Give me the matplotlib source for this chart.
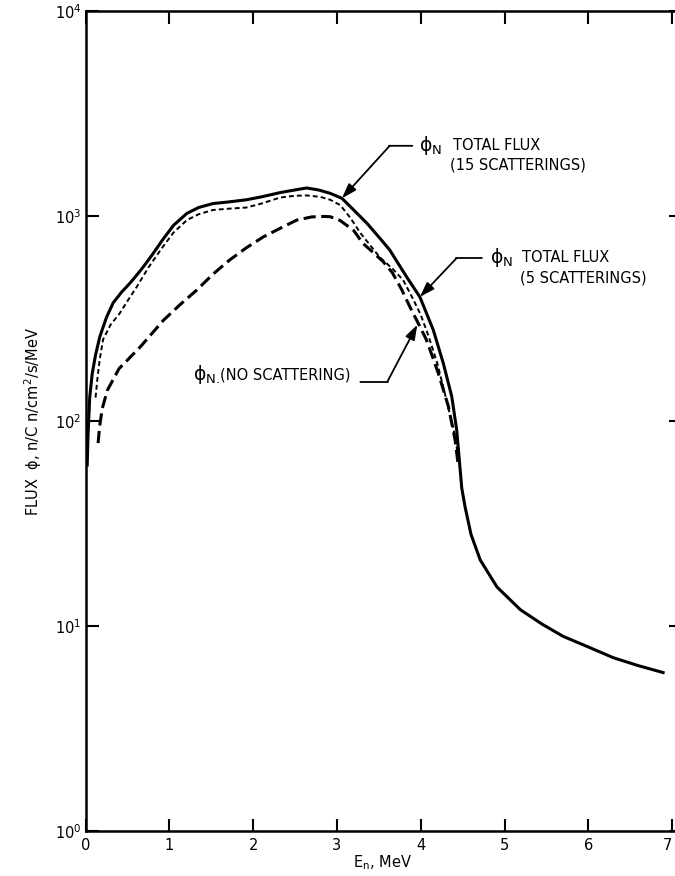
import matplotlib
matplotlib.use("Agg")
import matplotlib.pyplot as plt

plt.rcParams['font.family'] = ['DejaVu Sans']
plt.rcParams['mathtext.default'] = 'regular'

# ---- data ----
# phi_N total flux, 15 scatterings (solid)
e_15 = [0.02, 0.03, 0.05, 0.08, 0.12, 0.17, 0.25, 0.33, 0.43, 0.53, 0.62, 0.69, 0.8,
        0.92, 1.05, 1.21, 1.35, 1.52, 1.7, 1.92, 2.1, 2.32, 2.5, 2.64, 2.78, 2.92,
        3.06, 3.2, 3.36, 3.5, 3.63, 3.83, 3.99, 4.15, 4.27, 4.37, 4.43, 4.46, 4.49,
        4.53, 4.6, 4.71, 4.91, 5.19, 5.45, 5.7, 6.0, 6.3, 6.6, 6.91]
f_15 = [60, 85, 130, 170, 210, 257, 320, 377, 425, 470, 520, 565, 650,
        765, 900, 1030, 1100, 1150, 1170, 1200, 1240, 1300, 1340, 1370, 1340, 1290,
        1220, 1070, 920, 790, 683, 506, 403, 278, 191, 132, 90, 65, 47,
        38, 28, 21, 15.5, 12, 10.2, 8.9, 7.9, 7.0, 6.4, 5.9]

# phi_N total flux, 5 scatterings (short dashes)
e_5 = [0.12, 0.14, 0.17, 0.21, 0.3, 0.41, 0.51, 0.61, 0.75, 0.92, 1.05, 1.21, 1.35,
       1.52, 1.7, 1.92, 2.1, 2.32, 2.5, 2.64, 2.8, 2.92, 3.04, 3.16, 3.28, 3.51,
       3.67, 3.79, 3.9, 4.0, 4.1, 4.2, 4.3, 4.4, 4.44]
f_5 = [130, 158, 200, 250, 295, 336, 390, 450, 560, 705, 830, 955, 1020,
       1070, 1085, 1100, 1150, 1230, 1255, 1260, 1240, 1200, 1130, 980, 826, 630,
       550, 487, 400, 330, 255, 190, 130, 88, 70]

# phi_N, no scattering (long dashes)
e_0 = [0.15, 0.17, 0.2, 0.26, 0.4, 0.65, 0.93, 1.13, 1.33, 1.52, 1.72, 1.92, 2.12,
       2.32, 2.52, 2.7, 2.85, 2.92, 3.04, 3.2, 3.31, 3.43, 3.55, 3.66, 3.77, 3.87,
       3.97, 4.07, 4.21, 4.33, 4.41, 4.45]
f_0 = [78, 95, 115, 141, 180, 229, 310, 370, 436, 520, 610, 700, 790,
       870, 955, 990, 995, 992, 950, 850, 736, 665, 600, 530, 440, 361,
       300, 248, 171, 118, 81, 60]

x_ticks = [0, 1, 2, 3, 4, 5, 6, 7]
x_ticklabels = ['0', '1', '2', '3', '4', '5', '6', '7']
y_ticks = [1, 10, 100, 1000, 10000]

# ---- figure ----
fig = plt.figure(figsize=(6.75, 8.76), dpi=100)
ax = fig.add_axes([85.5 / 675, 45 / 876, 595 / 675, 820 / 876])
ax.set_yscale('log')
ax.set_xlim(0, 7.1)
ax.set_ylim(1, 1e4)

ax.plot(e_15, f_15, color='black', lw=2.2, solid_capstyle='butt')
ax.plot(e_5, f_5, color='black', lw=1.4, dashes=(2.5, 1.6))
ax.plot(e_0, f_0, color='black', lw=2.2, dashes=(4.0, 1.8))

ax.set_xticks(x_ticks)
ax.set_xticklabels(x_ticklabels)
ax.set_yticks(y_ticks)
ax.minorticks_off()
ax.tick_params(axis='both', which='major', direction='in', length=9, width=1.5,
               top=True, right=True, labelsize=10.5, colors='black')
ax.tick_params(axis='x', pad=5)
ax.tick_params(axis='y', pad=3)
ax.get_xticklabels()[-1].set_horizontalalignment('right')
for sp in ax.spines.values():
    sp.set_linewidth(1.8)

ax.set_xlabel(r'$\mathregular{E_n}$, MeV', fontsize=10.5, labelpad=0)
ax.set_ylabel(r'FLUX  $\phi$, n/C n/cm$^2$/s/MeV', fontsize=10.5, labelpad=8)

# ---- annotations ----
arrow_kw = dict(arrowstyle='-|>,head_length=0.9,head_width=0.3', color='black',
                lw=1.3, shrinkA=0, shrinkB=0, mutation_scale=10)
line_kw = dict(arrowstyle='-', color='black', lw=1.3, shrinkA=0, shrinkB=0)
fs = 10.5

# 15 scatterings
ax.annotate('', xy=(3.06, 1220), xytext=(3.63, 2200), arrowprops=arrow_kw)
ax.annotate('', xy=(3.90, 2200), xytext=(3.62, 2200), arrowprops=line_kw)
ax.text(3.98, 2200, r'$\phi_N$', fontsize=fs + 3, ha='left', va='center')
ax.text(4.385, 2200, 'TOTAL FLUX', fontsize=fs, ha='left', va='center')
ax.text(4.35, 1765, '(15 SCATTERINGS)', fontsize=fs, ha='left', va='center')

# 5 scatterings
ax.annotate('', xy=(3.99, 403), xytext=(4.43, 624), arrowprops=arrow_kw)
ax.annotate('', xy=(4.73, 624), xytext=(4.42, 624), arrowprops=line_kw)
ax.text(4.83, 624, r'$\phi_N$', fontsize=fs + 3, ha='left', va='center')
ax.text(5.21, 624, 'TOTAL FLUX', fontsize=fs, ha='left', va='center')
ax.text(5.19, 501, '(5 SCATTERINGS)', fontsize=fs, ha='left', va='center')

# no scattering
ax.annotate('', xy=(3.96, 295), xytext=(3.60, 155), arrowprops=arrow_kw)
ax.annotate('', xy=(3.28, 155), xytext=(3.61, 155), arrowprops=line_kw)
ax.text(1.28, 168, r'$\phi_{N.}$', fontsize=fs + 3, ha='left', va='center')
ax.text(1.605, 168, '(NO SCATTERING)', fontsize=fs, ha='left', va='center')

fig.savefig('out.png', dpi=100)
